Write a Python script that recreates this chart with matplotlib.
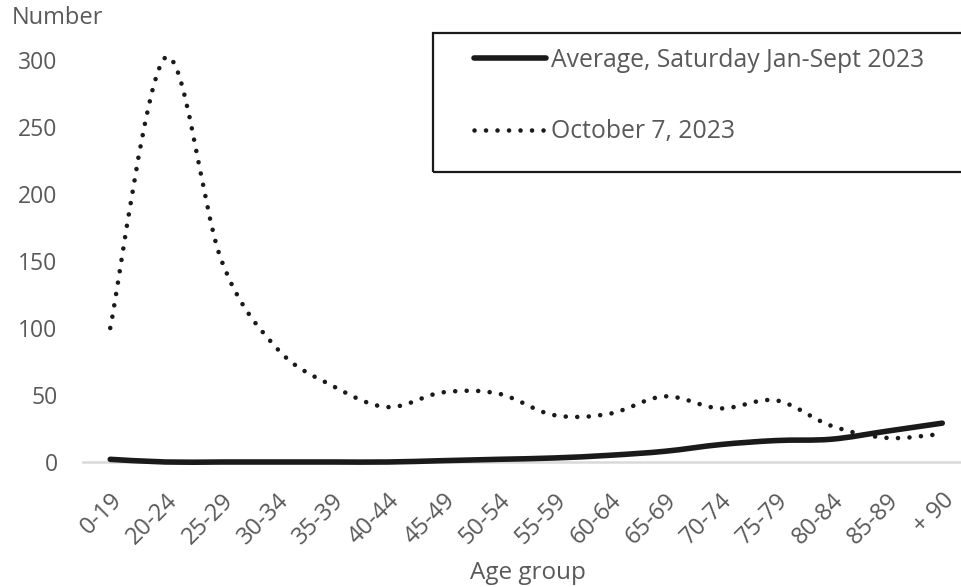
import numpy as np
import matplotlib.pyplot as plt
from matplotlib.path import Path
from matplotlib.patches import PathPatch, Rectangle
from matplotlib.lines import Line2D

plt.rcParams['font.family'] = ['Open Sans', 'DejaVu Sans']

age_groups = ["0-19", "20-24", "25-29", "30-34", "35-39", "40-44", "45-49", "50-54",
              "55-59", "60-64", "65-69", "70-74", "75-79", "80-84", "85-89", "+ 90"]
avg_saturday = [2, 0, 0, 0, 0, 0, 1, 2, 3, 5, 8, 13, 16, 17, 23, 29]
october_7 = [100, 302, 151, 85, 57, 41, 52, 51, 35, 36, 49, 40, 46, 27, 18, 21]

GRAY = "#595959"
DOTS = (0, (0.01, 2.5))


def smooth_path(xs, ys):
    # Excel-style smoothed line: cubic Bezier segments through the points
    pts = np.column_stack([xs, ys]).astype(float)
    n = len(pts)
    verts = [pts[0]]
    codes = [Path.MOVETO]
    for i in range(n - 1):
        p0 = pts[max(i - 1, 0)]
        p1 = pts[i]
        p2 = pts[i + 1]
        p3 = pts[min(i + 2, n - 1)]
        c1 = p1 + (p2 - p0) / 6
        c2 = p2 - (p3 - p1) / 6
        verts += [c1, c2, p2]
        codes += [Path.CURVE4] * 3
    return Path(verts, codes)


fig = plt.figure(figsize=(9.62, 5.87), dpi=100)
ax = fig.add_axes([82.5 / 962, 125 / 587, 887.5 / 962, 402 / 587])

x = np.arange(len(age_groups))

ax.add_patch(PathPatch(smooth_path(x, october_7), fill=False, edgecolor="#1a1a1a",
                       linewidth=3.3, linestyle=DOTS, capstyle="round",
                       clip_on=False, zorder=3))
ax.add_patch(PathPatch(smooth_path(x, avg_saturday), fill=False, edgecolor="#1a1a1a",
                       linewidth=4.0, capstyle="round", joinstyle="round",
                       clip_on=False, zorder=4))

ax.set_xlim(-0.5, len(age_groups) - 0.5)
ax.set_ylim(0, 300)
ax.set_yticks(range(0, 301, 50))
ax.set_xticks(x)
ax.set_xticklabels(age_groups, rotation=45, ha="right", rotation_mode="anchor")

for s in ["top", "right", "left"]:
    ax.spines[s].set_visible(False)
ax.spines["bottom"].set_color("#d9d9d9")
ax.spines["bottom"].set_linewidth(1.8)
ax.tick_params(axis="both", length=0, labelcolor=GRAY)
ax.tick_params(axis="y", pad=18, labelsize=16.5)
ax.tick_params(axis="x", pad=19, labelsize=17)

fig.text(12 / 962, 1 - 18 / 587, "Number", fontsize=17, color=GRAY, va="center", ha="left")
fig.text(528 / 962, 1 - 573 / 587, "Age group", fontsize=17.5, color=GRAY, va="center", ha="center")

# legend frame, drawn wider than the figure like the original
fig.add_artist(Rectangle((433 / 962, 1 - 172 / 587), 560 / 962, 139 / 587,
                         transform=fig.transFigure, fill=False, edgecolor="#1a1a1a",
                         linewidth=1.6))

handles = [Line2D([], [], color="#1a1a1a", linewidth=4.0, solid_capstyle="round"),
           Line2D([], [], color="#1a1a1a", linewidth=3.3, linestyle=DOTS,
                  dash_capstyle="round")]
leg = ax.legend(handles, ["Average, Saturday Jan-Sept 2023", "October 7, 2023"],
                loc="upper left", bbox_to_anchor=(474 / 962, 1 - 48 / 587),
                bbox_transform=fig.transFigure, frameon=False, fontsize=17.8,
                labelcolor=GRAY, handlelength=2.9, handletextpad=0.2,
                borderpad=0, labelspacing=1.88, borderaxespad=0)

fig.savefig("out.png", dpi=100)
